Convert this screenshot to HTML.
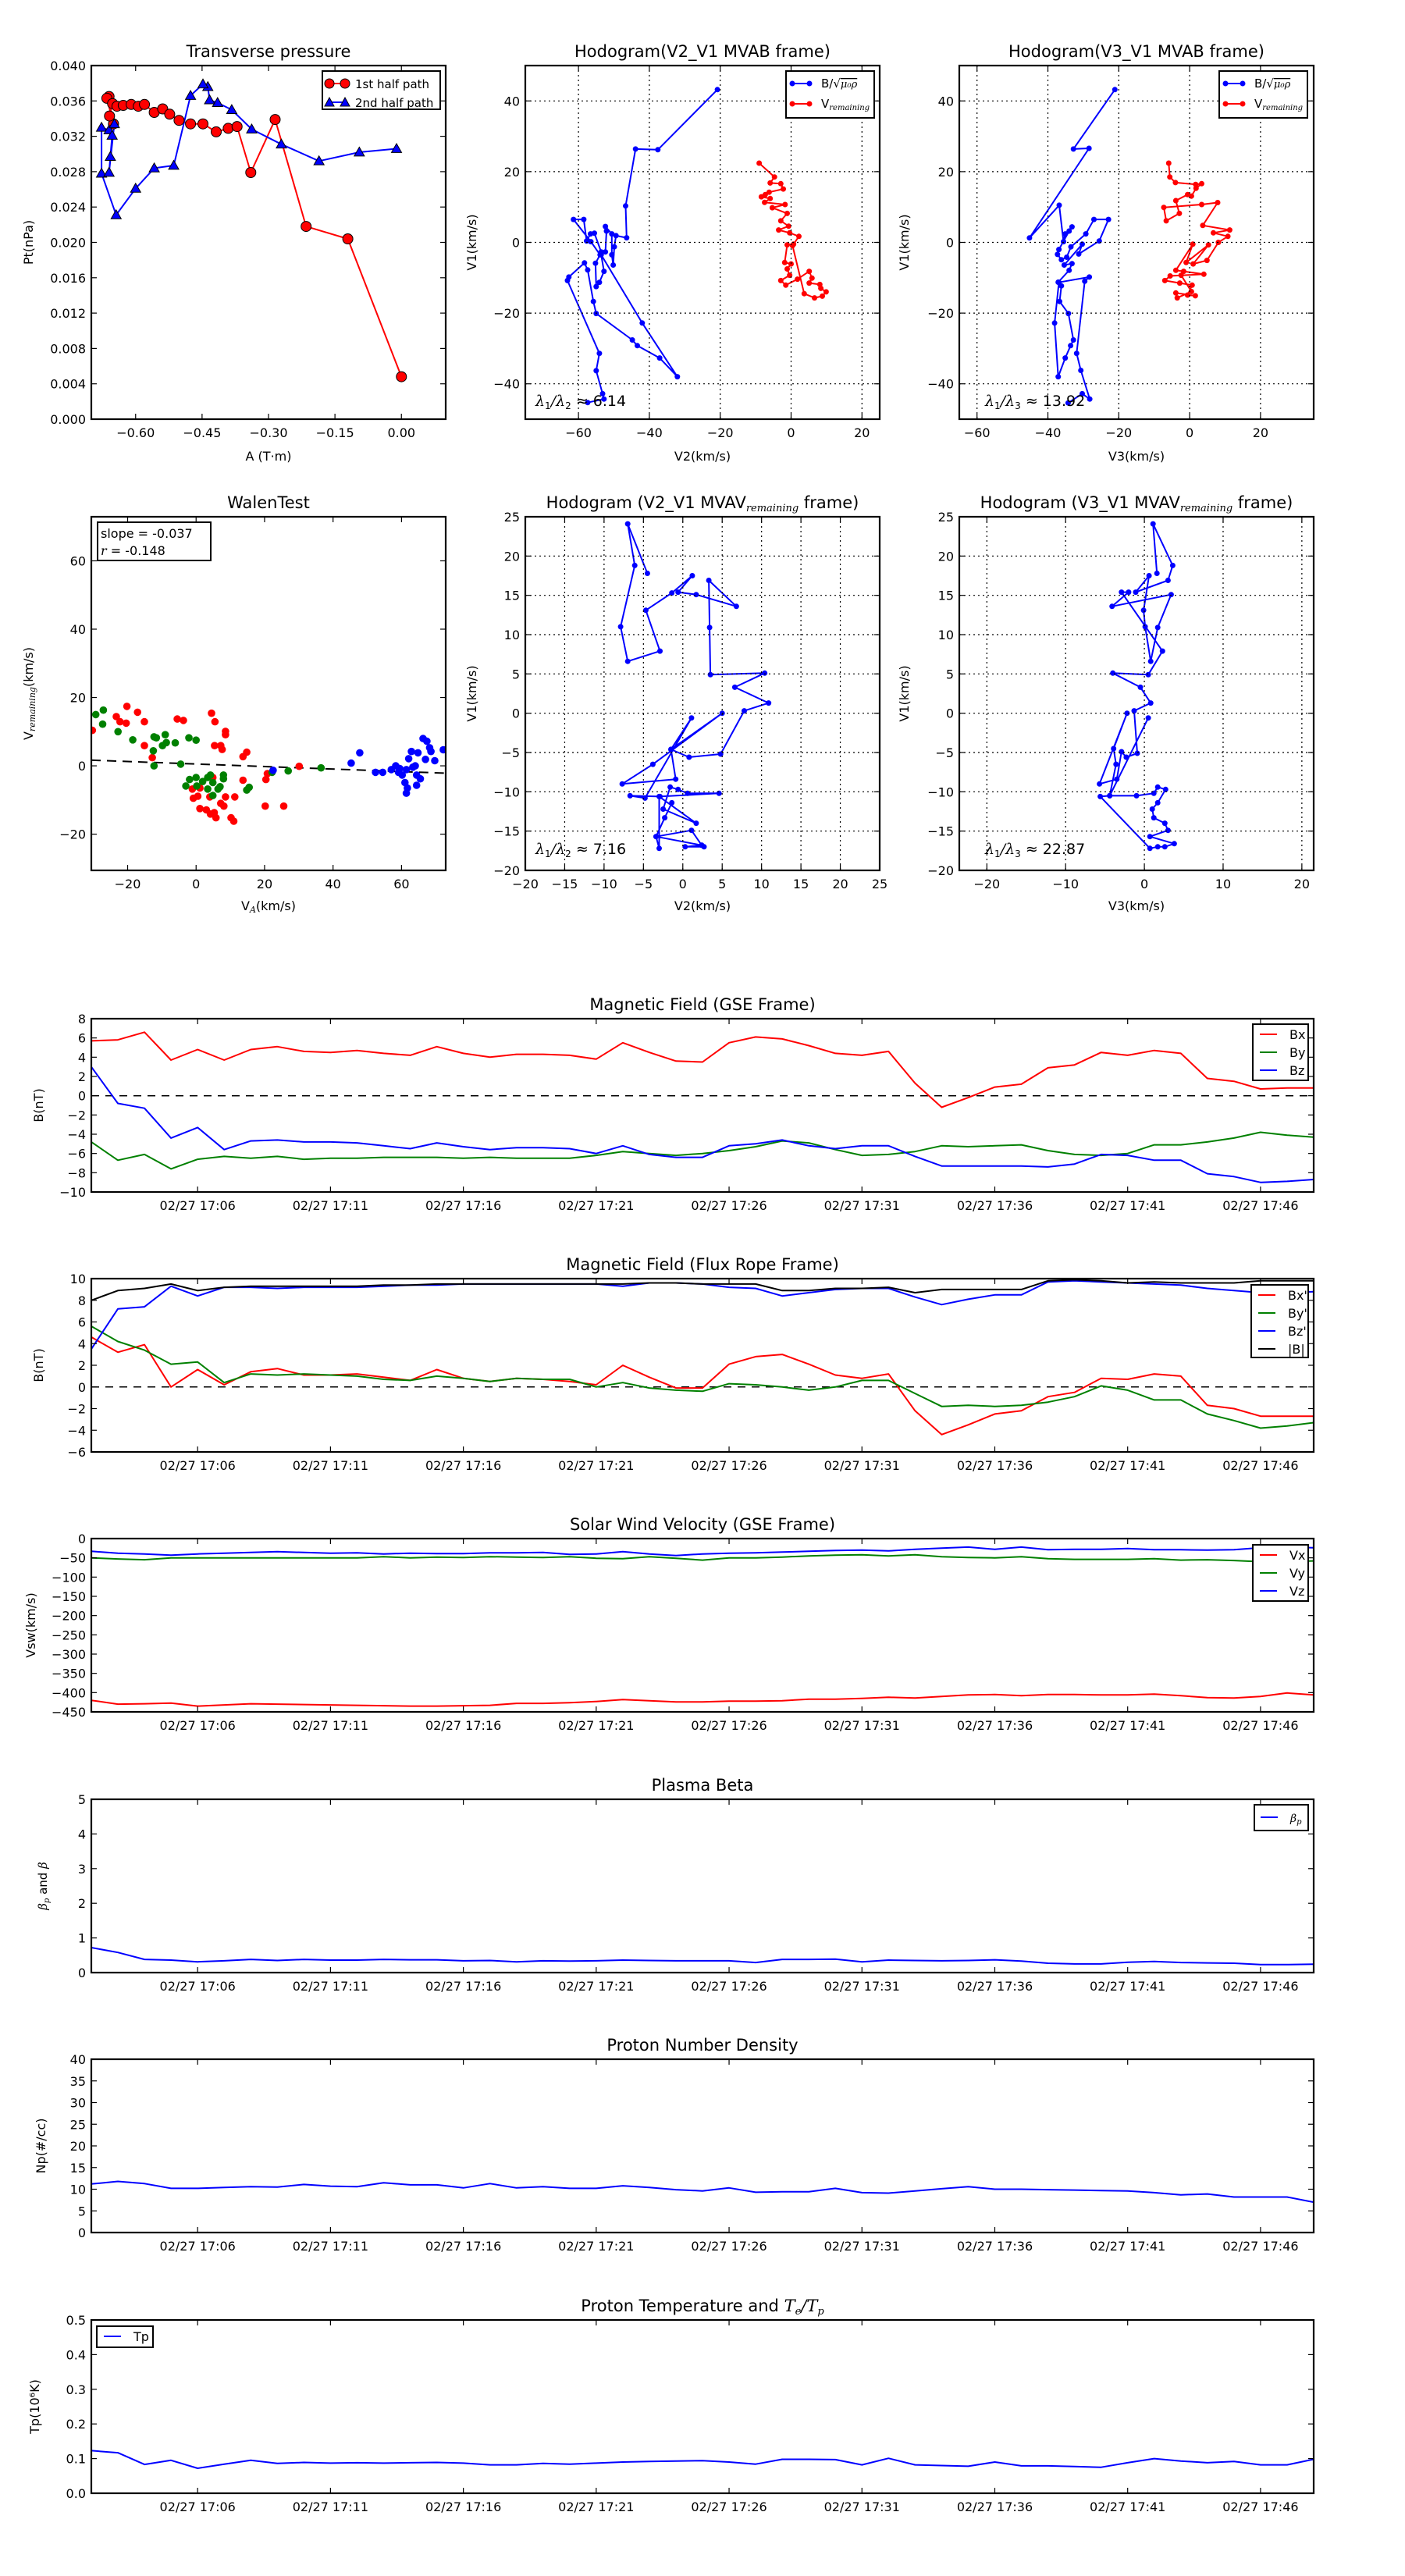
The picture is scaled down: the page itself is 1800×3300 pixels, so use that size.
<!DOCTYPE html>
<html><head><meta charset="utf-8"><title>Flux rope analysis</title>
<style>
html,body{margin:0;padding:0;background:#fff;}
svg{display:block;font-family:"DejaVu Sans","Liberation Sans",sans-serif;}
</style></head>
<body>
<svg id="fig" width="1800" height="3300" viewBox="0 0 1800 3300" xmlns="http://www.w3.org/2000/svg">
<rect x="0" y="0" width="1800" height="3300" fill="#fff"/>
</svg>
<script>
// ---------- Transverse pressure data ----------
const ptA1 = [-0.660,-0.665,-0.650,-0.659,-0.652,-0.642,-0.628,-0.610,-0.594,-0.580,-0.558,-0.539,-0.523,-0.502,-0.476,-0.448,-0.418,-0.391,-0.371,-0.340,-0.285,-0.215,-0.121,0.000];
const ptP1 = [0.0365,0.0363,0.0334,0.0343,0.0357,0.0354,0.0355,0.0356,0.0354,0.0356,0.0347,0.0351,0.0345,0.0338,0.0334,0.0334,0.0325,0.0329,0.0331,0.0279,0.0339,0.0218,0.0204,0.0048];
const ptA2 = [-0.011,-0.095,-0.186,-0.271,-0.338,-0.383,-0.415,-0.433,-0.437,-0.448,-0.476,-0.514,-0.558,-0.600,-0.644,-0.677,-0.677,-0.660,-0.653,-0.657,-0.660,-0.648];
const ptP2 = [0.0306,0.0302,0.0292,0.0311,0.0328,0.0350,0.0358,0.0361,0.0376,0.0379,0.0366,0.0287,0.0284,0.0261,0.0231,0.0278,0.0330,0.0327,0.0321,0.0297,0.0279,0.0334];
// ---------- Hodogram MVAB V2-V1 ----------
const h1bX = [-20.8,-37.6,-43.9,-46.7,-46.4,-49.4,-49.9,-50.2,-50.6,-50.6,-52.4,-52.1,-52.4,-53.6,-55.5,-56.6,-57.7,-58.5,-61.4,-56.5,-53.9,-55.2,-55.0,-54.1,-52.8,-53.6,-42.0,-32.1,-37.1,-43.4,-44.8,-55.0,-55.8,-57.4,-58.3,-62.7,-63.1,-54.1,-55.0,-53.2,-52.8,-57.4];
const h1bY = [43.2,26.2,26.4,10.3,1.3,1.9,-1.25,-6.4,-3.5,2.4,4.5,3.2,-2.7,-2.7,2.6,2.4,0.4,6.5,6.5,0.2,-3.5,-5.9,-12.5,-11.3,-8.2,-3.5,-22.8,-38.0,-32.7,-29.2,-27.6,-20.1,-16.7,-7.8,-5.8,-9.8,-10.8,-31.4,-36.3,-42.8,-44.3,-45.3];
const h1rX = [-9.0,-4.7,-5.9,-2.9,-2.2,-6.2,-7.3,-8.4,-5.9,-7.5,-1.7,-5.3,-1.1,-2.9,-0.7,-3.5,-0.4,2.2,0.7,-1.1,-1.8,0.0,-1.1,-0.4,-2.9,-1.5,1.8,5.1,5.9,5.1,8.1,8.4,9.9,8.8,6.6,3.7,0.4];
const h1rY = [22.4,18.5,16.8,16.6,15.1,14.2,13.5,12.9,12.4,11.3,10.7,9.8,8.2,6.1,4.6,3.5,2.7,1.7,-0.5,-0.7,-5.7,-6.1,-7.5,-9.3,-10.8,-12.1,-10.4,-8.2,-10.1,-11.5,-11.9,-13.0,-14.0,-15.2,-15.7,-14.5,-0.9];
// ---------- Hodogram MVAB V3-V1 ----------
const h2bX = [-21.1,-32.8,-28.4,-45.2,-36.8,-35.6,-35.1,-33.2,-34.0,-36.9,-37.3,-36.2,-34.7,-33.5,-29.3,-27.0,-22.9,-25.5,-31.3,-30.3,-35.4,-33.2,-34.0,-37.1,-36.2,-36.7,-34.2,-32.8,-33.6,-35.1,-37.1,-38.1,-36.9,-28.3,-29.6,-31.9,-30.7,-28.2,-30.3,-34.3];
const h2bY = [43.2,26.4,26.6,1.25,10.5,0.2,2.4,4.4,3.2,-2.0,-3.4,-4.9,-4.2,-1.25,2.4,6.5,6.5,0.4,-3.3,-0.5,-6.4,-6.0,-7.9,-11.25,-12.3,-16.7,-20.1,-27.6,-29.2,-32.7,-38.0,-22.8,-11.3,-9.8,-11.0,-31.4,-36.2,-44.3,-42.8,-45.4];
const h2rX = [-5.9,-5.6,-4.0,1.7,3.4,1.8,0.5,-0.6,-3.9,-2.9,-6.6,-7.3,3.4,7.9,3.7,11.3,6.7,10.8,8.1,4.9,1.0,5.3,-1.0,0.9,-3.9,-1.7,4.0,-5.5,-7.0,-2.8,0.7,-0.6,1.6,-3.9,-3.5,0.5,-2.4];
const h2rY = [22.4,18.5,16.9,16.4,16.6,15.3,13.1,13.5,11.8,8.2,6.1,9.9,10.7,11.25,4.8,3.5,2.7,1.7,0.0,-5.1,-6.1,-0.7,-5.7,-0.5,-7.9,-8.2,-9.0,-9.5,-10.8,-11.5,-12.1,-14.9,-15.1,-14.3,-15.7,-13.9,-9.3];
// ---------- Walen test ----------
const wRedX = [-30.3,-23.3,-22.2,-20.4,-20.2,-17.1,-15.1,-15.1,-12.8,-5.5,-3.7,4.5,5.5,8.6,8.6,5.4,7.2,7.6,13.7,14.8,13.7,-1.1,-0.8,0.5,1.1,3.0,4.2,5.3,5.8,7.2,8.1,8.6,10.2,11.0,11.3,4.0,4.9,20.2,25.6,20.4,20.8,30.1,1.1];
const wRedY = [10.4,14.4,12.9,12.5,17.4,15.7,12.9,5.9,2.4,13.7,13.3,15.4,12.9,10.1,9.1,5.9,5.9,4.8,2.7,4.0,-4.2,-6.8,-9.5,-8.9,-12.5,-12.9,-14.1,-13.7,-15.2,-11.0,-11.8,-9.1,-15.2,-16.2,-9.1,-9.1,-3.4,-11.8,-11.8,-4.0,-2.3,-0.15,-6.5];
const wGrnX = [-29.3,-27.1,-27.3,-22.8,-18.5,-12.5,-12.3,-11.6,-9.0,-8.7,-9.8,-6.1,-2.1,0.0,-4.5,-12.3,-3.0,-1.9,0.0,0.2,1.9,3.4,4.2,4.9,4.9,6.4,7.0,8.0,8.0,3.4,14.8,15.5,22.2,26.9,36.5];
const wGrnY = [15.0,16.3,12.2,10.0,7.6,4.4,8.5,8.2,9.1,6.8,5.9,6.7,8.2,7.5,0.5,0.0,-5.9,-4.0,-3.4,-5.9,-4.6,-3.4,-2.7,-4.9,-8.7,-6.8,-6.1,-2.7,-3.8,-6.8,-7.1,-6.3,-1.9,-1.5,-0.6];
const wBluX = [22.5,45.3,47.8,52.4,54.5,57.0,58.3,59.5,60.2,61.0,61.4,61.7,62.1,62.9,64.0,64.4,64.4,65.5,66.3,67.4,67.0,68.2,68.6,69.7,72.2,63.3,64.8,61.4,59.1];
const wBluY = [-1.3,0.8,3.8,-1.9,-1.9,-1.1,0.0,-0.8,-2.7,-4.9,-8.0,-6.5,2.1,4.2,0.0,-2.7,-5.7,-3.8,8.0,7.2,1.9,5.3,4.2,1.5,4.7,-0.4,3.8,-1.1,-1.9];
const wSlope = -0.037;
const wIntercept = 0.54;
// ---------- Hodogram MVAV V2-V1 ----------
const h3X = [-4.5,-7.0,-6.1,-7.9,-7.0,-2.9,-4.7,-1.4,1.2,-0.6,1.7,6.8,3.3,3.4,3.5,10.4,6.6,10.9,7.8,4.8,0.8,-1.5,5.0,-3.8,-7.7,-0.9,-1.5,1.1,-4.8,-6.7,-2.9,4.6,0.6,-0.6,-1.6,-2.5,1.7,-3.0,-3.0,-3.4,1.1,2.4,2.7,0.3,2.4,-3.4,-2.3,-1.4];
const h3Y = [17.8,24.1,18.8,11.0,6.6,7.9,13.1,15.3,17.5,15.4,15.1,13.6,16.9,10.9,4.9,5.1,3.3,1.3,0.3,-5.2,-5.6,-4.6,0.0,-6.5,-9.0,-8.4,-4.6,-0.6,-10.8,-10.5,-10.6,-10.2,-10.2,-9.7,-9.4,-12.2,-14.0,-10.6,-17.2,-15.7,-14.9,-16.8,-17.0,-17.0,-16.8,-15.7,-13.3,-11.4];
// ---------- Hodogram MVAV V3-V1 ----------
const h4X = [1.6,1.1,3.6,3.0,-1.1,0.6,-0.1,0.1,0.8,1.7,3.4,-4.1,-2.0,-2.9,2.3,0.5,-4.0,-0.5,0.8,-1.3,-0.9,-2.3,-2.9,-3.5,-5.7,-2.2,-3.9,-3.6,-4.4,-5.6,0.7,1.7,2.6,3.8,0.7,3.0,2.6,1.2,1.0,1.7,2.7,1.7,1.2,-1.0,-4.4,0.5];
const h4Y = [17.8,24.1,18.8,16.9,15.4,17.5,13.1,11.0,6.6,10.9,15.1,13.6,15.4,15.4,7.9,4.9,5.1,3.3,1.3,0.3,-5.1,-5.6,-4.9,-8.4,-9.0,0.0,-4.5,-6.5,-10.5,-10.6,-17.2,-17.0,-17.0,-16.6,-15.7,-14.9,-14.0,-13.3,-12.2,-11.4,-9.7,-9.4,-10.2,-10.5,-10.5,-0.6];
// ---------- Time series (1-min samples from 17:02) ----------
const timeTickMinutes = [4,9,14,19,24,29,34,39,44];
const timeTickLabels = ["02/27 17:06","02/27 17:11","02/27 17:16","02/27 17:21","02/27 17:26","02/27 17:31","02/27 17:36","02/27 17:41","02/27 17:46"];
const bx = [5.7,5.8,6.6,3.7,4.8,3.7,4.8,5.1,4.6,4.5,4.7,4.4,4.2,5.1,4.4,4.0,4.3,4.3,4.2,3.8,5.5,4.5,3.6,3.5,5.5,6.1,5.9,5.2,4.4,4.2,4.6,1.3,-1.2,-0.2,0.9,1.2,2.9,3.2,4.5,4.2,4.7,4.4,1.8,1.5,0.7,0.8,0.8];
const by = [-4.8,-6.7,-6.1,-7.6,-6.6,-6.3,-6.5,-6.3,-6.6,-6.5,-6.5,-6.4,-6.4,-6.4,-6.5,-6.4,-6.5,-6.5,-6.5,-6.2,-5.8,-6.0,-6.2,-6.0,-5.7,-5.3,-4.7,-4.9,-5.6,-6.2,-6.1,-5.8,-5.2,-5.3,-5.2,-5.1,-5.7,-6.1,-6.2,-6.0,-5.1,-5.1,-4.8,-4.4,-3.8,-4.1,-4.3];
const bz = [3.0,-0.8,-1.3,-4.4,-3.3,-5.6,-4.7,-4.6,-4.8,-4.8,-4.9,-5.2,-5.5,-4.9,-5.3,-5.6,-5.4,-5.4,-5.5,-6.0,-5.2,-6.1,-6.4,-6.4,-5.2,-5.0,-4.6,-5.2,-5.5,-5.2,-5.2,-6.3,-7.3,-7.3,-7.3,-7.3,-7.4,-7.1,-6.1,-6.2,-6.7,-6.7,-8.1,-8.4,-9.0,-8.9,-8.7];
const bxp = [4.6,3.2,3.9,0.0,1.6,0.2,1.4,1.7,1.1,1.1,1.2,0.9,0.6,1.6,0.8,0.5,0.8,0.7,0.5,0.2,2.0,0.9,-0.1,-0.1,2.1,2.8,3.0,2.1,1.1,0.8,1.2,-2.2,-4.4,-3.5,-2.5,-2.2,-0.9,-0.5,0.8,0.7,1.2,1.0,-1.7,-2.0,-2.7,-2.7,-2.7];
const byp = [5.6,4.2,3.4,2.1,2.3,0.4,1.2,1.1,1.2,1.1,1.0,0.7,0.6,1.0,0.8,0.5,0.8,0.7,0.7,0.0,0.4,-0.1,-0.3,-0.4,0.3,0.2,0.0,-0.3,0.0,0.6,0.6,-0.6,-1.8,-1.7,-1.8,-1.7,-1.4,-0.9,0.1,-0.3,-1.2,-1.2,-2.5,-3.1,-3.8,-3.6,-3.3];
const bzp = [3.5,7.2,7.4,9.3,8.4,9.2,9.2,9.1,9.2,9.2,9.2,9.3,9.4,9.4,9.5,9.5,9.5,9.5,9.5,9.5,9.3,9.6,9.6,9.5,9.2,9.1,8.4,8.7,9.0,9.1,9.1,8.3,7.6,8.1,8.5,8.5,9.7,9.8,9.7,9.6,9.5,9.4,9.1,8.9,8.7,8.7,8.8];
const bmag = [8.0,8.9,9.1,9.5,8.9,9.2,9.3,9.3,9.3,9.3,9.3,9.4,9.4,9.5,9.5,9.5,9.5,9.5,9.5,9.5,9.5,9.6,9.6,9.5,9.5,9.5,8.9,8.9,9.1,9.1,9.2,8.7,9.0,9.0,9.0,9.0,9.8,9.9,9.8,9.6,9.7,9.6,9.6,9.6,9.8,9.8,9.8];
const vx = [-420,-430,-429,-427,-435,-432,-429,-430,-431,-432,-433,-434,-435,-435,-434,-433,-428,-428,-426,-423,-418,-421,-424,-424,-422,-422,-421,-417,-417,-415,-412,-414,-410,-406,-405,-408,-405,-405,-406,-406,-404,-408,-413,-414,-410,-401,-406];
const vy = [-50,-53,-55,-50,-50,-50,-50,-50,-50,-50,-50,-47,-50,-48,-49,-47,-48,-49,-47,-51,-52,-47,-51,-56,-50,-50,-48,-45,-43,-42,-45,-42,-47,-49,-50,-47,-52,-54,-54,-54,-52,-56,-55,-57,-60,-60,-58];
const vz = [-33,-38,-40,-43,-40,-38,-36,-34,-36,-38,-37,-40,-38,-39,-39,-37,-37,-36,-41,-40,-34,-40,-44,-40,-38,-37,-35,-33,-31,-30,-32,-28,-25,-22,-28,-22,-29,-28,-28,-26,-29,-29,-30,-29,-24,-22,-24];
const betaP = [0.72,0.58,0.38,0.36,0.31,0.34,0.38,0.35,0.38,0.36,0.36,0.38,0.37,0.37,0.34,0.35,0.31,0.34,0.33,0.34,0.36,0.35,0.34,0.34,0.34,0.29,0.38,0.38,0.39,0.31,0.36,0.35,0.34,0.35,0.37,0.33,0.27,0.25,0.25,0.30,0.32,0.29,0.28,0.27,0.23,0.23,0.24];
const np = [11.2,11.8,11.3,10.2,10.2,10.4,10.6,10.5,11.1,10.7,10.6,11.5,11.0,11.0,10.3,11.3,10.3,10.6,10.2,10.2,10.8,10.4,9.9,9.6,10.3,9.3,9.4,9.4,10.2,9.2,9.1,9.6,10.1,10.6,10.0,10.0,9.9,9.8,9.7,9.6,9.2,8.7,8.9,8.2,8.2,8.2,7.0];
const tp = [0.123,0.117,0.083,0.095,0.072,0.084,0.095,0.086,0.089,0.087,0.088,0.087,0.088,0.089,0.087,0.082,0.082,0.086,0.084,0.087,0.090,0.092,0.093,0.094,0.090,0.084,0.098,0.098,0.097,0.082,0.101,0.082,0.080,0.078,0.090,0.079,0.079,0.077,0.075,0.088,0.100,0.093,0.088,0.092,0.082,0.082,0.098];

const NS = 'http://www.w3.org/2000/svg';
const svg = document.getElementById('fig');
let clipId = 0;
function el(tag, attrs, parent) {
  const e = document.createElementNS(NS, tag);
  for (const k in attrs) e.setAttribute(k, attrs[k]);
  (parent || svg).appendChild(e);
  return e;
}
function txt(parent, x, y, s, size, anchor, extra) {
  const t = el('text', Object.assign({x: x, y: y, 'font-size': size, 'text-anchor': anchor || 'middle', fill: '#000'}, extra || {}), parent);
  t.textContent = s;
  return t;
}
function fmtNum(v, d) { const s = Math.abs(v).toFixed(d); return (v < -1e-9 ? '\u2212' : '') + s; }

function makeAxes(name, x, y, w, h, xmin, xmax, ymin, ymax) {
  const g = el('g', {});
  
  
  const ax = {g: g, x: x, y: y, w: w, h: h,
    sx: v => x + (v - xmin) / (xmax - xmin) * w,
    sy: v => y + h - (v - ymin) / (ymax - ymin) * h};
  clipId++;
  const cp = el('clipPath', {id: 'c' + clipId}, g);
  el('rect', {x: x, y: y, width: w, height: h}, cp);
  ax.plot = el('g', {'clip-path': 'url(#c' + clipId + ')'}, g);
  
  
  return ax;
}
function ticks(ax, xt, xl, yt, yl, grid, xlabY) {
  const g = ax.g;
  const tg = el('g', {stroke: '#000', 'stroke-width': 1.2}, g);
  
  
  xt.forEach((v, i) => {
    const px = ax.sx(v);
    if (grid) el('line', {x1: px, y1: ax.y, x2: px, y2: ax.y + ax.h, 'stroke-dasharray': '2,4', 'stroke-width': 1.2}, tg);
    el('line', {x1: px, y1: ax.y + ax.h, x2: px, y2: ax.y + ax.h - 7}, tg);
    el('line', {x1: px, y1: ax.y, x2: px, y2: ax.y + 7}, tg);
    if (xl[i] !== null) {
      const t = txt(g, px, ax.y + ax.h + (xlabY || 23), xl[i], 16, 'middle');
      
      
    }
  });
  yt.forEach((v, i) => {
    const py = ax.sy(v);
    if (grid) el('line', {x1: ax.x, y1: py, x2: ax.x + ax.w, y2: py, 'stroke-dasharray': '2,4', 'stroke-width': 1.2}, tg);
    el('line', {x1: ax.x, y1: py, x2: ax.x + 7, y2: py}, tg);
    el('line', {x1: ax.x + ax.w, y1: py, x2: ax.x + ax.w - 7, y2: py}, tg);
    const t = txt(g, ax.x - 7, py + 6, yl[i], 16, 'end');
    
    
  });
}
function frame(ax) {
  const r = el('rect', {x: ax.x, y: ax.y, width: ax.w, height: ax.h, fill: 'none', stroke: '#000', 'stroke-width': 2.2}, ax.g);
  
  
}
function title(ax, s, parts) {
  const t = el('text', {x: ax.x + ax.w / 2, y: ax.y - 11, 'font-size': 21, 'text-anchor': 'middle'}, ax.g);
  
  
  if (!parts) { t.textContent = s; return; }
  parts.forEach(p => {
    const ts = el('tspan', p.a || {}, t);
    ts.textContent = p.s;
  });
}
function ylabel(ax, x, s, parts, size) {
  const cy = ax.y + ax.h / 2;
  const t = el('text', {x: x, y: cy, 'font-size': size || 16, 'text-anchor': 'middle', transform: 'rotate(-90 ' + x + ' ' + cy + ')'}, ax.g);
  
  
  if (!parts) { t.textContent = s; return; }
  parts.forEach(p => { const ts = el('tspan', p.a || {}, t); ts.textContent = p.s; });
}
function xlabel(ax, y, s, parts) {
  const t = el('text', {x: ax.x + ax.w / 2, y: y, 'font-size': 16, 'text-anchor': 'middle'}, ax.g);
  
  
  if (!parts) { t.textContent = s; return; }
  parts.forEach(p => { const ts = el('tspan', p.a || {}, t); ts.textContent = p.s; });
}
function line(ax, xs, ys, color, name, width) {
  const d = xs.map((v, i) => (i ? 'L' : 'M') + ax.sx(v).toFixed(1) + ',' + ax.sy(ys[i]).toFixed(1)).join('');
  const p = el('path', {d: d, fill: 'none', stroke: color, 'stroke-width': width || 2, 'stroke-linejoin': 'round'}, ax.plot);
  
  
  return p;
}
function dots(ax, xs, ys, color, r, name, stroke) {
  const g = el('g', {fill: color}, ax.plot);
  
  
  xs.forEach((v, i) => {
    const c = el('circle', {cx: ax.sx(v).toFixed(1), cy: ax.sy(ys[i]).toFixed(1), r: r}, g);
    if (stroke) { c.setAttribute('stroke', '#000'); c.setAttribute('stroke-width', 1); }
    
    
  });
}
function tris(ax, xs, ys, color, s, name) {
  const g = el('g', {fill: color, stroke: '#000', 'stroke-width': 1}, ax.plot);
  
  
  xs.forEach((v, i) => {
    const cx = ax.sx(v), cy = ax.sy(ys[i]);
    const p = el('polygon', {points: (cx) + ',' + (cy - s) + ' ' + (cx - s) + ',' + (cy + s * 0.75) + ' ' + (cx + s) + ',' + (cy + s * 0.75)}, g);
    
    
  });
}
function legendBox(ax, x, y, w, h) {
  const g = el('g', {}, ax.g);
  
  
  el('rect', {x: x, y: y, width: w, height: h, fill: '#fff', stroke: '#000', 'stroke-width': 2}, g);
  return g;
}
function legendLine(g, x, y, color, label, parts, size) {
  const e = el('g', {}, g);
  
  
  el('line', {x1: x, y1: y, x2: x + 22, y2: y, stroke: color, 'stroke-width': 2}, e);
  const t = el('text', {x: x + 38, y: y + 6, 'font-size': size || 16}, e);
  if (parts) parts.forEach(p => { const ts = el('tspan', p.a || {}, t); ts.textContent = p.s; });
  else t.textContent = label;
  return e;
}
const IT = {'font-family': '"DejaVu Serif", serif', 'font-style': 'italic'};
const SUB = Object.assign({'font-size': 11, dy: 4}, IT);

// ===== Panel 1: Transverse pressure =====
(function () {
  const ax = makeAxes('transverse-pressure-chart', 117, 84, 454, 453, -0.7, 0.1, 0, 0.04);
  ticks(ax, [-0.6, -0.45, -0.3, -0.15, 0], ['\u22120.60', '\u22120.45', '\u22120.30', '\u22120.15', '0.00'],
    [0, 0.004, 0.008, 0.012, 0.016, 0.02, 0.024, 0.028, 0.032, 0.036, 0.04],
    ['0.000', '0.004', '0.008', '0.012', '0.016', '0.020', '0.024', '0.028', '0.032', '0.036', '0.040'], false);
  line(ax, ptA1, ptP1, '#ff0000', 'first-half-path-line', 2);
  line(ax, ptA2, ptP2, '#0000ff', 'second-half-path-line', 2);
  dots(ax, ptA1, ptP1, '#ff0000', 6.5, 'first-half-path-markers', true);
  tris(ax, ptA2, ptP2, '#0000ff', 6.5, 'second-half-path-markers');
  frame(ax);
  title(ax, 'Transverse pressure');
  ylabel(ax, 42, 'Pt(nPa)');
  xlabel(ax, 590, 'A (T\u00b7m)');
  const lg = legendBox(ax, 413, 91, 151, 49);
  [[107, '#ff0000', '1st half path', 'c'], [131, '#0000ff', '2nd half path', 't']].forEach(r => {
    const e = el('g', {}, lg);
    
    
    el('line', {x1: 422, y1: r[0], x2: 442, y2: r[0], stroke: r[1], 'stroke-width': 2}, e);
    [422, 442].forEach(mx => {
      if (r[3] === 'c') el('circle', {cx: mx, cy: r[0], r: 6, fill: r[1], stroke: '#000'}, e);
      else el('polygon', {points: mx + ',' + (r[0] - 6) + ' ' + (mx - 6) + ',' + (r[0] + 5) + ' ' + (mx + 6) + ',' + (r[0] + 5), fill: r[1], stroke: '#000'}, e);
    });
    const t = txt(e, 455, r[0] + 6, r[2], 15, 'start');
  });
})();

function hodoLegend(ax, x) {
  const lg = legendBox(ax, x, 91, 113, 60);
  const e1 = el('g', {}, lg);
  
  
  el('line', {x1: x + 8, y1: 107, x2: x + 30, y2: 107, stroke: '#0000ff', 'stroke-width': 2}, e1);
  el('circle', {cx: x + 8, cy: 107, r: 3.5, fill: '#0000ff'}, e1);
  el('circle', {cx: x + 30, cy: 107, r: 3.5, fill: '#0000ff'}, e1);
  const t1 = el('text', {x: x + 45, y: 112, 'font-size': 15}, e1);
  let s = el('tspan', {}, t1); s.textContent = 'B/\u221a';
  s = el('tspan', Object.assign({'font-size': 13, 'text-decoration': 'overline'}, IT), t1); s.textContent = '\u03bc\u2080\u03c1';
  const e2 = el('g', {}, lg);
  
  
  el('line', {x1: x + 8, y1: 133, x2: x + 30, y2: 133, stroke: '#ff0000', 'stroke-width': 2}, e2);
  el('circle', {cx: x + 8, cy: 133, r: 3.5, fill: '#ff0000'}, e2);
  el('circle', {cx: x + 30, cy: 133, r: 3.5, fill: '#ff0000'}, e2);
  const t2 = el('text', {x: x + 45, y: 138, 'font-size': 15}, e2);
  s = el('tspan', {}, t2); s.textContent = 'V';
  s = el('tspan', Object.assign({'font-size': 10, dy: 3}, IT), t2); s.textContent = 'remaining';
}
function ratioText(ax, x, y, sub, val) {
  const t = el('text', {x: x, y: y, 'font-size': 19}, ax.g);
  
  
  let s = el('tspan', IT, t); s.textContent = '\u03bb';
  s = el('tspan', {'font-size': 12, dy: 4}, t); s.textContent = '1';
  s = el('tspan', Object.assign({dy: -4}, IT), t); s.textContent = '/\u03bb';
  s = el('tspan', {'font-size': 12, dy: 4}, t); s.textContent = sub;
  s = el('tspan', {dy: -4}, t); s.textContent = ' \u2248 ' + val;
}

// ===== Panel 2: Hodogram V2_V1 MVAB =====
(function () {
  const ax = makeAxes('hodogram-v2-v1-mvab', 673, 84, 454, 453, -75, 25, -50, 50);
  ticks(ax, [-60, -40, -20, 0, 20], ['\u221260', '\u221240', '\u221220', '0', '20'], [-40, -20, 0, 20, 40], ['\u221240', '\u221220', '0', '20', '40'], true);
  line(ax, h1bX, h1bY, '#0000ff', 'b-field-path', 2);
  dots(ax, h1bX, h1bY, '#0000ff', 3.5, 'b-field-markers');
  line(ax, h1rX, h1rY, '#ff0000', 'v-remaining-path', 2);
  dots(ax, h1rX, h1rY, '#ff0000', 3.5, 'v-remaining-markers');
  frame(ax);
  title(ax, 'Hodogram(V2_V1 MVAB frame)');
  ylabel(ax, 610, 'V1(km/s)');
  xlabel(ax, 590, 'V2(km/s)');
  hodoLegend(ax, 1007);
  ratioText(ax, 686, 520, '2', '6.14');
})();
// ===== Panel 3: Hodogram V3_V1 MVAB =====
(function () {
  const ax = makeAxes('hodogram-v3-v1-mvab', 1229, 84, 454, 453, -65, 35, -50, 50);
  ticks(ax, [-60, -40, -20, 0, 20], ['\u221260', '\u221240', '\u221220', '0', '20'], [-40, -20, 0, 20, 40], ['\u221240', '\u221220', '0', '20', '40'], true);
  line(ax, h2bX, h2bY, '#0000ff', 'b-field-path', 2);
  dots(ax, h2bX, h2bY, '#0000ff', 3.5, 'b-field-markers');
  line(ax, h2rX, h2rY, '#ff0000', 'v-remaining-path', 2);
  dots(ax, h2rX, h2rY, '#ff0000', 3.5, 'v-remaining-markers');
  frame(ax);
  title(ax, 'Hodogram(V3_V1 MVAB frame)');
  ylabel(ax, 1164, 'V1(km/s)');
  xlabel(ax, 590, 'V3(km/s)');
  hodoLegend(ax, 1562);
  ratioText(ax, 1262, 520, '3', '13.92');
})();
// ===== Panel 4: Walen test =====
(function () {
  const ax = makeAxes('walen-test-chart', 117, 662, 454, 453, -30.6, 72.9, -30.6, 72.9);
  ticks(ax, [-20, 0, 20, 40, 60], ['\u221220', '0', '20', '40', '60'], [-20, 0, 20, 40, 60], ['\u221220', '0', '20', '40', '60'], false);
  const fx = [-30.6, 72.9];
  const fy = fx.map(v => wIntercept + wSlope * v);
  const fl = line(ax, fx, fy, '#000', 'regression-line', 2);
  fl.setAttribute('stroke-dasharray', '12,8');
  dots(ax, wRedX, wRedY, '#ff0000', 4.8, 'walen-red-points');
  dots(ax, wGrnX, wGrnY, '#008000', 4.8, 'walen-green-points');
  dots(ax, wBluX, wBluY, '#0000ff', 4.8, 'walen-blue-points');
  frame(ax);
  title(ax, 'WalenTest');
  ylabel(ax, 42, '', [{s: 'V'}, {s: 'remaining', a: Object.assign({'font-size': 11, dy: 3}, IT)}, {s: '(km/s)', a: {dy: -3}}]);
  xlabel(ax, 1166, '', [{s: 'V'}, {s: 'A', a: Object.assign({'font-size': 11, dy: 3}, IT)}, {s: '(km/s)', a: {dy: -3}}]);
  const bg = el('g', {}, ax.g);
  
  
  el('rect', {x: 125, y: 669, width: 145, height: 49, fill: '#fff', stroke: '#000', 'stroke-width': 2}, bg);
  txt(bg, 129, 689, 'slope = ' + wSlope.toFixed(3).replace('-', '-'), 16, 'start');
  const t = el('text', {x: 129, y: 711, 'font-size': 16}, bg);
  let s = el('tspan', IT, t); s.textContent = 'r';
  s = el('tspan', {}, t); s.textContent = ' = -0.148';
})();
// ===== Panel 5: Hodogram V2_V1 MVAV =====
(function () {
  const ax = makeAxes('hodogram-v2-v1-mvav', 673, 662, 454, 453, -20, 25, -20, 25);
  ticks(ax, [-20, -15, -10, -5, 0, 5, 10, 15, 20, 25], ['\u221220', '\u221215', '\u221210', '\u22125', '0', '5', '10', '15', '20', '25'],
    [-20, -15, -10, -5, 0, 5, 10, 15, 20, 25], ['\u221220', '\u221215', '\u221210', '\u22125', '0', '5', '10', '15', '20', '25'], true);
  line(ax, h3X, h3Y, '#0000ff', 'b-field-path', 2);
  dots(ax, h3X, h3Y, '#0000ff', 3.5, 'b-field-markers');
  frame(ax);
  title(ax, '', [{s: 'Hodogram (V2_V1 MVAV'}, {s: 'remaining', a: Object.assign({'font-size': 13, dy: 4}, IT)}, {s: ' frame)', a: {dy: -4}}]);
  ylabel(ax, 610, 'V1(km/s)');
  xlabel(ax, 1166, 'V2(km/s)');
  ratioText(ax, 686, 1094, '2', '7.16');
})();
// ===== Panel 6: Hodogram V3_V1 MVAV =====
(function () {
  const ax = makeAxes('hodogram-v3-v1-mvav', 1229, 662, 454, 453, -23.5, 21.5, -20, 25);
  ticks(ax, [-20, -10, 0, 10, 20], ['\u221220', '\u221210', '0', '10', '20'],
    [-20, -15, -10, -5, 0, 5, 10, 15, 20, 25], ['\u221220', '\u221215', '\u221210', '\u22125', '0', '5', '10', '15', '20', '25'], true);
  line(ax, h4X, h4Y, '#0000ff', 'b-field-path', 2);
  dots(ax, h4X, h4Y, '#0000ff', 3.5, 'b-field-markers');
  frame(ax);
  title(ax, '', [{s: 'Hodogram (V3_V1 MVAV'}, {s: 'remaining', a: Object.assign({'font-size': 13, dy: 4}, IT)}, {s: ' frame)', a: {dy: -4}}]);
  ylabel(ax, 1164, 'V1(km/s)');
  xlabel(ax, 1166, 'V3(km/s)');
  ratioText(ax, 1262, 1094, '3', '22.87');
})();

// ===== Time series panels =====
const minutes = bx.map((_, i) => i);
function tsPanel(name, top, ymin, ymax, ytk, ylab, ttl, series, zero) {
  const ax = makeAxes(name, 117, top, 1566, 222, 0, 46, ymin, ymax);
  ticks(ax, timeTickMinutes, timeTickLabels, ytk, ylab, false);
  if (zero) {
    const z = line(ax, [0, 46], [0, 0], '#000', 'zero-reference-line', 1.5);
    z.setAttribute('stroke-dasharray', '10,8');
  }
  series.forEach(s => line(ax, minutes, s.v, s.c, s.n, 2));
  frame(ax);
  return ax;
}
function rng(a, b, st) { const r = []; for (let v = a; v <= b + 1e-9; v += st) r.push(Math.round(v * 1000) / 1000); return r; }

(function () {
  const yt = rng(-10, 8, 2);
  const ax = tsPanel('magnetic-field-gse-chart', 1305, -10, 8, yt, yt.map(v => fmtNum(v, 0)), '',
    [{v: bx, c: '#ff0000', n: 'bx-line'}, {v: by, c: '#008000', n: 'by-line'}, {v: bz, c: '#0000ff', n: 'bz-line'}], true);
  title(ax, 'Magnetic Field (GSE Frame)');
  ylabel(ax, 55, 'B(nT)');
  const lg = legendBox(ax, 1605, 1312, 71, 72);
  legendLine(lg, 1614, 1325, '#ff0000', 'Bx');
  legendLine(lg, 1614, 1348, '#008000', 'By');
  legendLine(lg, 1614, 1371, '#0000ff', 'Bz');
})();
(function () {
  const yt = rng(-6, 10, 2);
  const ax = tsPanel('magnetic-field-flux-rope-chart', 1638, -6, 10, yt, yt.map(v => fmtNum(v, 0)), '',
    [{v: bxp, c: '#ff0000', n: 'bx-prime-line'}, {v: byp, c: '#008000', n: 'by-prime-line'}, {v: bzp, c: '#0000ff', n: 'bz-prime-line'}, {v: bmag, c: '#000000', n: 'b-magnitude-line'}], true);
  title(ax, 'Magnetic Field (Flux Rope Frame)');
  ylabel(ax, 55, 'B(nT)');
  const lg = legendBox(ax, 1603, 1646, 73, 93);
  legendLine(lg, 1612, 1659, '#ff0000', "Bx'");
  legendLine(lg, 1612, 1682, '#008000', "By'");
  legendLine(lg, 1612, 1705, '#0000ff', "Bz'");
  legendLine(lg, 1612, 1728, '#000000', '|B|');
})();
(function () {
  const yt = rng(-450, 0, 50);
  const ax = tsPanel('solar-wind-velocity-chart', 1971, -450, 0, yt, yt.map(v => fmtNum(v, 0)), '',
    [{v: vx, c: '#ff0000', n: 'vx-line'}, {v: vy, c: '#008000', n: 'vy-line'}, {v: vz, c: '#0000ff', n: 'vz-line'}], false);
  title(ax, 'Solar Wind Velocity (GSE Frame)');
  ylabel(ax, 45, 'Vsw(km/s)');
  const lg = legendBox(ax, 1605, 1979, 71, 72);
  legendLine(lg, 1614, 1992, '#ff0000', 'Vx');
  legendLine(lg, 1614, 2015, '#008000', 'Vy');
  legendLine(lg, 1614, 2038, '#0000ff', 'Vz');
})();
(function () {
  const yt = rng(0, 5, 1);
  const ax = tsPanel('plasma-beta-chart', 2305, 0, 5, yt, yt.map(v => fmtNum(v, 0)), '',
    [{v: betaP, c: '#0000ff', n: 'beta-p-line'}], false);
  title(ax, 'Plasma Beta');
  ylabel(ax, 60, '', [{s: '\u03b2', a: IT}, {s: 'p', a: Object.assign({'font-size': 10, dy: 3}, IT)}, {s: ' and ', a: {dy: -3}}, {s: '\u03b2', a: IT}], 15);
  const lg = legendBox(ax, 1607, 2312, 69, 33);
  legendLine(lg, 1615, 2328, '#0000ff', '', [{s: '\u03b2', a: IT}, {s: 'p', a: Object.assign({'font-size': 10, dy: 3}, IT)}], 14);
})();
(function () {
  const yt = rng(0, 40, 5);
  const ax = tsPanel('proton-density-chart', 2638, 0, 40, yt, yt.map(v => fmtNum(v, 0)), '',
    [{v: np, c: '#0000ff', n: 'np-line'}], false);
  title(ax, 'Proton Number Density');
  ylabel(ax, 58, 'Np(#/cc)');
})();
(function () {
  const yt = rng(0, 0.5, 0.1);
  const ax = tsPanel('proton-temperature-chart', 2972, 0, 0.5, yt, yt.map(v => fmtNum(v, 1)), '',
    [{v: tp, c: '#0000ff', n: 'tp-line'}], false);
  title(ax, '', [{s: 'Proton Temperature and '}, {s: 'T', a: IT}, {s: 'e', a: Object.assign({'font-size': 13, dy: 4}, IT)}, {s: '/', a: Object.assign({dy: -4}, IT)}, {s: 'T', a: IT}, {s: 'p', a: Object.assign({'font-size': 13, dy: 4}, IT)}]);
  ylabel(ax, 50, 'Tp(10\u2076K)');
  const lg = legendBox(ax, 124, 2980, 72, 27);
  legendLine(lg, 133, 2993, '#0000ff', 'Tp');
})();
</script>
</body></html>
